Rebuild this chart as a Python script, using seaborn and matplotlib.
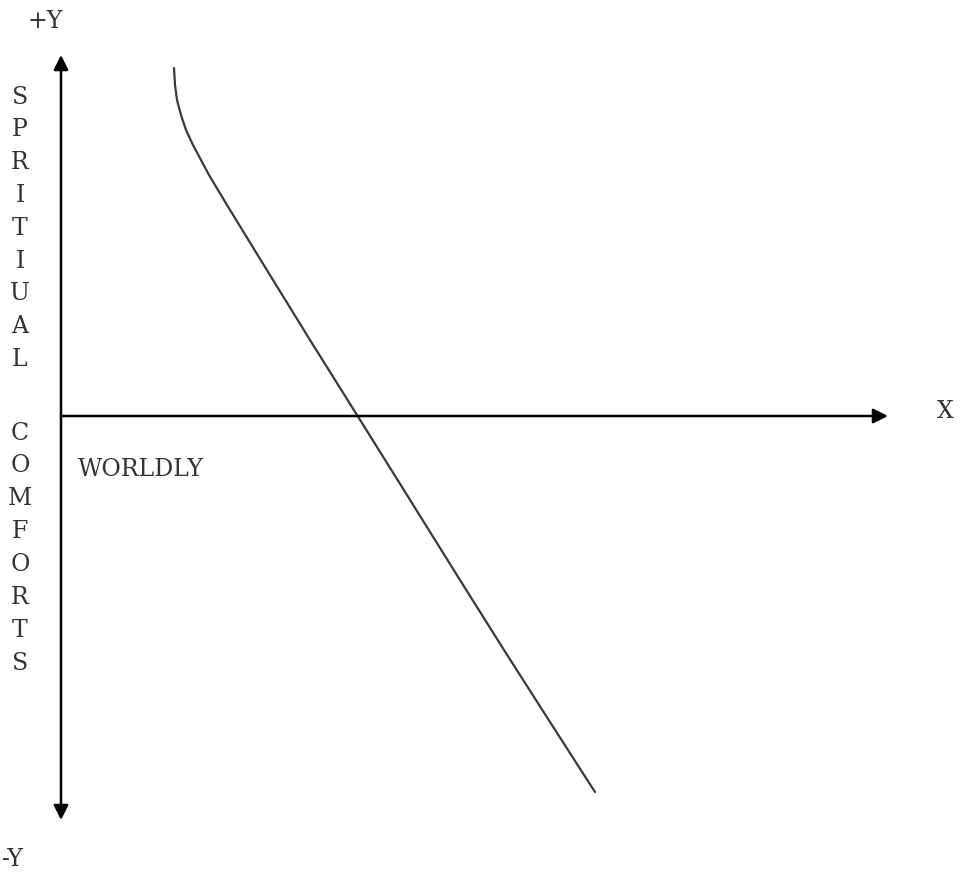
import matplotlib
matplotlib.use("Agg")
import matplotlib.pyplot as plt
import seaborn as sns
import pandas as pd

# --- data: curve in axis units (origin where the two axes cross) ---
curve_x = [113, 114, 116, 120, 125, 132, 140, 148, 166, 204, 249,
           296, 341, 399, 443, 489, 534]
curve_y = [348, 331, 316, 301, 286, 271, 256, 241, 211, 149, 76,
           1, -71, -164, -234, -306, -376]

# axis extents
y_top, y_bottom = 361, -404
x_right = 827

upper_word = "SPRITIUAL"
lower_word = "COMFORTS"

sns.set_theme(style="white")
plt.rcParams['font.family'] = ['DejaVu Serif', 'DejaVu Sans']

fig = plt.figure(figsize=(9.63, 8.75), dpi=100)
ax = fig.add_axes([0, 0, 1, 1])
ax.set_xlim(-61, 902)
ax.set_ylim(-459, 416)
ax.axis('off')

df = pd.DataFrame({'x': curve_x, 'y': curve_y})
sns.lineplot(data=df, x='x', y='y', sort=False, color='#3a3a3a', lw=1.6,
             solid_joinstyle='round', solid_capstyle='round', ax=ax)

# axes drawn as arrows
arrow_kw = dict(arrowstyle='-|>', color='black', lw=1.8,
                mutation_scale=22, shrinkA=0, shrinkB=0)
ax.annotate('', xy=(0, y_top), xytext=(0, 0), arrowprops=arrow_kw)
ax.annotate('', xy=(0, y_bottom), xytext=(0, 0), arrowprops=arrow_kw)
ax.annotate('', xy=(x_right, 0), xytext=(0, 0), arrowprops=arrow_kw)

txt = dict(fontsize=17, color='#333333', ha='center', va='center')
ax.text(-16, 394, '+Y', **txt)
ax.text(-59, -444, '-Y', **{**txt, 'ha': 'left'})
ax.text(884, 4, 'X', **txt)
ax.text(17, -54, 'WORLDLY', **{**txt, 'ha': 'left'})

for i, ch in enumerate(upper_word):
    ax.text(-41, 319 - i * 32.8, ch, **txt)
for i, ch in enumerate(lower_word):
    ax.text(-41, -17 - i * 32.9, ch, **txt)

fig.savefig('out.png', dpi=100)
